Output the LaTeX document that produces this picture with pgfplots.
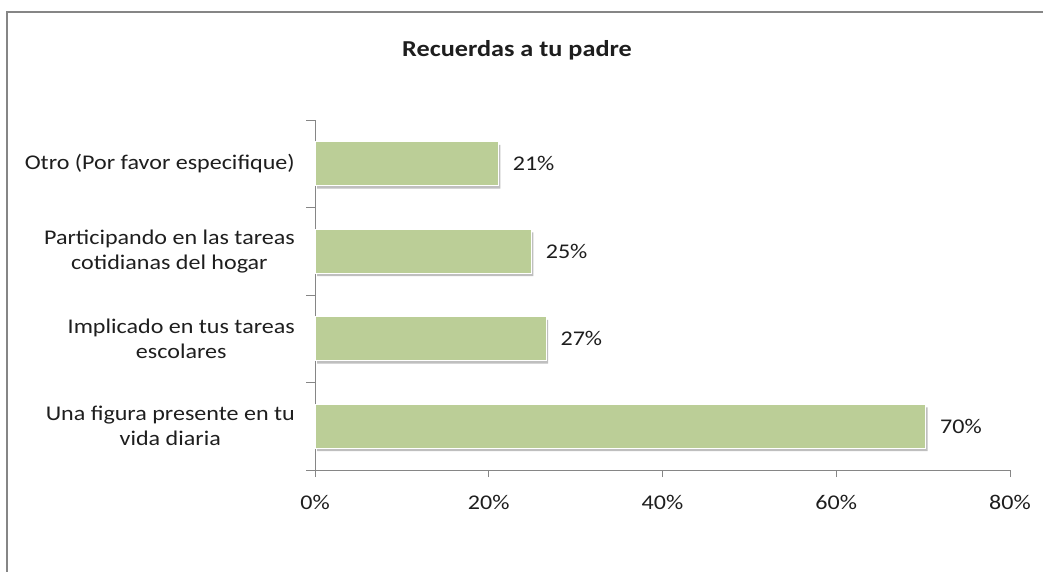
\documentclass[border=0pt]{standalone}
\usepackage{fontspec}
\setmainfont{Carlito}[FakeStretch=1.15]
\usepackage{pgfplots}
\pgfplotsset{compat=1.18}
\definecolor{barfill}{RGB}{187,206,151}
\definecolor{axgray}{RGB}{134,134,134}
\definecolor{txt}{RGB}{30,30,30}
\pgfplotstableread{
y x
0 70.3
1 26.6
2 24.9
3 21.1
}\datatable
\begin{document}
\begin{tikzpicture}[x=1bp,y=1bp]
\useasboundingbox (0,0) rectangle (1043,-572);
\draw[line width=2bp, color=axgray] (7,-572) -- (7,-12) -- (1043,-12);
\node[font=\bfseries\fontsize{22.9}{27}\selectfont, text=txt] at (517,-50) {Recuerdas a tu padre};
\begin{axis}[
  at={(315bp,-470bp)}, anchor=south west,
  scale only axis, width=695bp, height=350bp,
  xbar, bar width=0.5,
  xmin=0, xmax=80, ymin=-0.5, ymax=3.5,
  axis lines*=left,
  axis line style={draw=axgray, line width=0.8bp, -},
  tick align=outside,
  xtick={0,20,40,60,80},
  xticklabel={\pgfmathprintnumber{\tick}\%},
  /pgf/number format/assume math mode=true,
  major tick length=7bp,
  minor tick length=9bp,
  tick style={draw=axgray, line width=0.8bp},
  ytick={0,1,2,3},
  major y tick style={draw=none},
  minor ytick={-0.5,0.5,1.5,2.5,3.5},
  minor y tick style={draw=axgray, line width=0.8bp},
  yticklabels={{Una figura presente en tu\\vida diaria},{Implicado en tus tareas\\escolares},{Participando en las tareas\\cotidianas del hogar},{Otro (Por favor especifique)}},
  yticklabel style={align=center, font=\fontsize{21}{25}\selectfont, text=txt, inner sep=0pt, xshift=-13bp},
  xticklabel style={font=\fontsize{21}{25}\selectfont, text=txt, inner sep=0pt, yshift=-18bp},
  nodes near coords={\pgfmathprintnumber[precision=0]{\pgfplotspointmeta}\%},
  point meta=x,
  nodes near coords style={font=\fontsize{21}{25}\selectfont, text=txt, anchor=west, inner sep=0pt, xshift=14bp},
  clip=false,
]
\addplot[fill=barfill, draw=white, line width=1bp,
  preaction={draw=none, fill=black!25, transform canvas={shift={(2bp,-3bp)}}}]
  table[x=x, y=y] {\datatable};
\end{axis}
\end{tikzpicture}
\end{document}
